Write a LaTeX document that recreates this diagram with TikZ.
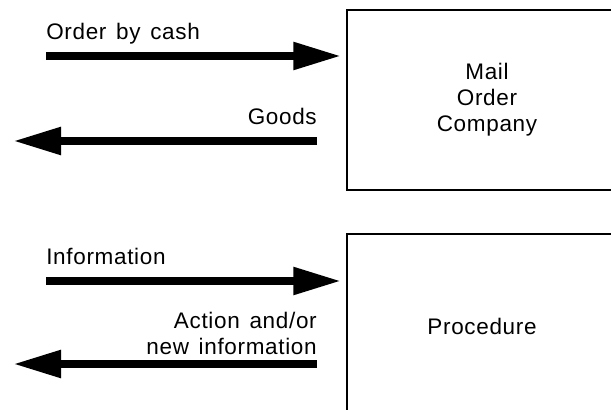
\documentclass[tikz,border=0pt]{standalone}
\usepackage{fontspec}
\setmainfont{Liberation Sans}[LetterSpace=3,WordSpace=1.4]
\usetikzlibrary{positioning,arrows.meta}

\tikzset{
  flow/.style={line width=2.1mm,-{Triangle[length=12mm,width=6.5mm]}},
  unit/.style={draw,line width=0.35mm,align=center,inner sep=0pt},
  lbl/.style={inner sep=0pt,align=right}
}

\begin{document}
\begin{tikzpicture}[x=0.25mm,y=-0.25mm,font=\fontsize{16}{18.5}\selectfont]
    \useasboundingbox (0,0) rectangle (611,410);
    \clip (0,0) rectangle (611,410);
    % the two boxes, open at the right
    \node[unit,minimum width=70mm,minimum height=45mm] (mail) at (487,100) {Mail\\Order\\Company};
    \node[unit,minimum width=67.5mm,minimum height=46mm] (proc) at (482,326) {Procedure};
    % free ends of the arrows
    \coordinate (ocfrom) at (46,56);
    \coordinate (gdfrom) at (317,141);
    \coordinate (gdto) at (13,141);
    \coordinate (infrom) at (46,281);
    \coordinate (acfrom) at (317,364);
    \coordinate (acto) at (13,364);
    \draw[flow,shorten >=1.25mm] (ocfrom) -- (mail.west |- ocfrom);
    \draw[flow] (gdfrom) -- (gdto);
    \draw[flow,shorten >=1.25mm] (infrom) -- (proc.west |- infrom);
    \draw[flow] (acfrom) -- (acto);
    % labels
    \node[lbl,anchor=base west] (oc) at (46,40) {Order by cash};
    \node[lbl,anchor=base east] (gd) at (317,125) {Goods};
    \node[lbl,anchor=base west] (in) at (46,265) {Information};
    \node[lbl,anchor=south east] (ac) at (317,355) {Action and/or\\new information};
\end{tikzpicture}
\end{document}
